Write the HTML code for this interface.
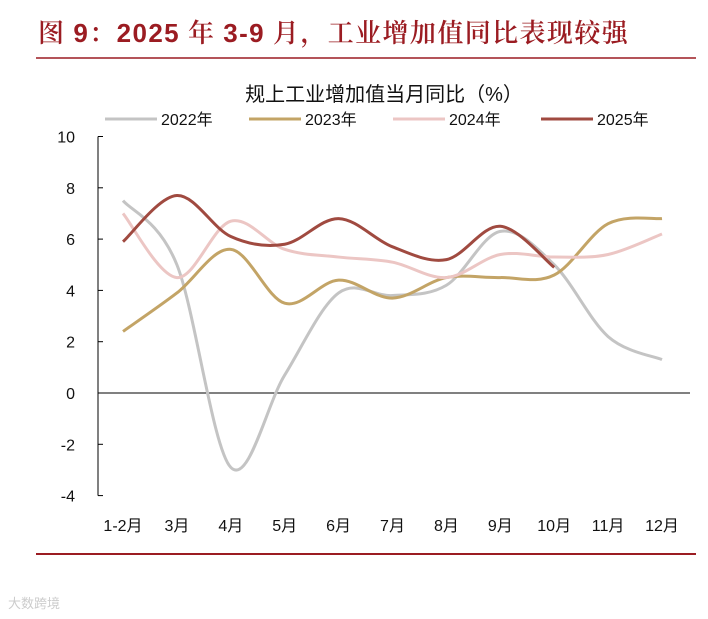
<!DOCTYPE html>
<html><head><meta charset="utf-8"><style>
body{margin:0;background:#fff;width:708px;height:614px;overflow:hidden;font-family:"Liberation Sans","Noto Sans CJK SC",sans-serif}
</style></head><body>
<svg width="708" height="614" xmlns="http://www.w3.org/2000/svg">
<text x="38" y="42" font-size="26" letter-spacing="1.4" font-weight="600" fill="#9b1c22" font-family="'Liberation Serif','Noto Serif CJK SC',serif">图 <tspan font-family="'Liberation Sans',sans-serif" font-weight="bold">9</tspan>：<tspan font-family="'Liberation Sans',sans-serif" font-weight="bold">2025</tspan> 年 <tspan font-family="'Liberation Sans',sans-serif" font-weight="bold">3-9</tspan> 月，工业增加值同比表现较强</text>
<line x1="36" y1="58" x2="696" y2="58" stroke="#9b1c22" stroke-width="1.5"/>
<text x="384" y="101" font-size="20" text-anchor="middle" fill="#111">规上工业增加值当月同比（%）</text>
<g id="legend"></g>
<g id="axes"></g>
<g id="series"></g>
<line x1="36" y1="554" x2="696" y2="554" stroke="#9b1c22" stroke-width="2"/>
<text x="8" y="608" font-size="13" fill="#ccc">大数跨境</text>
</svg>
<script>
const categories=["1-2月","3月","4月","5月","6月","7月","8月","9月","10月","11月","12月"];
const yTicks=[10,8,6,4,2,0,-2,-4];
const seriesNames=["2022年","2023年","2024年","2025年"];
const s2022=[7.5,5.0,-2.9,0.7,3.9,3.8,4.2,6.3,5.0,2.2,1.3];
const s2023=[2.4,3.9,5.6,3.5,4.4,3.7,4.5,4.5,4.6,6.6,6.8];
const s2024=[7.0,4.5,6.7,5.6,5.3,5.1,4.5,5.4,5.3,5.4,6.2];
const s2025=[5.9,7.7,6.1,5.8,6.8,5.7,5.2,6.5,4.9];
const colors=["#c4c4c4","#c3a466","#ecc6c4","#a04a40"];
const NS="http://www.w3.org/2000/svg";
const x0=123,dx=53.9;const yZero=393,yUnit=25.65;
const xs=i=>x0+i*dx, ys=v=>yZero-v*yUnit;
function mk(t,a,p){const e=document.createElementNS(NS,t);for(const k in a)e.setAttribute(k,a[k]);p.appendChild(e);return e;}
const axes=document.getElementById('axes');
let yl=mk('line',{x1:98,y1:ys(10),x2:98,y2:ys(-4),stroke:'#000','stroke-width':1},axes);


let xl=mk('line',{x1:98,y1:yZero,x2:690,y2:yZero,stroke:'#000','stroke-width':1},axes);


yTicks.forEach(v=>{
 let tk=mk('line',{x1:98,y1:ys(v),x2:103,y2:ys(v),stroke:'#000'},axes);
 
 
 let t=mk('text',{x:75,y:ys(v)+6,'font-size':16,'text-anchor':'end',fill:'#111'},axes);t.textContent=v;
 
 
});
categories.forEach((c,i)=>{
 let t=mk('text',{x:xs(i),y:531,'font-size':16,'text-anchor':'middle',fill:'#111'},axes);t.textContent=c;
 
 
});
function path(vals){
 const p=vals.map((v,i)=>[xs(i),ys(v)]);let d=`M${p[0][0]},${p[0][1]}`;
 for(let i=0;i<p.length-1;i++){const a=p[i-1]||p[i],b=p[i],c=p[i+1],e=p[i+2]||c;
  d+=` C${b[0]+(c[0]-a[0])/6},${b[1]+(c[1]-a[1])/6} ${c[0]-(e[0]-b[0])/6},${c[1]-(e[1]-b[1])/6} ${c[0]},${c[1]}`;}
 return d;}
const sg=document.getElementById('series');
[s2022,s2023,s2024,s2025].forEach((s,k)=>{
 let p=mk('path',{d:path(s),fill:'none',stroke:colors[k],'stroke-width':3},sg);
 
 
});
const lg=document.getElementById('legend');
const lx=[105,249,393,541];
seriesNames.forEach((n,k)=>{
 let l=mk('line',{x1:lx[k],y1:119,x2:lx[k]+52,y2:119,stroke:colors[k],'stroke-width':3},lg);
 
 
 let t=mk('text',{x:lx[k]+56,y:125,'font-size':16,fill:'#111'},lg);t.textContent=n;
 
 
});
</script>
</body></html>
